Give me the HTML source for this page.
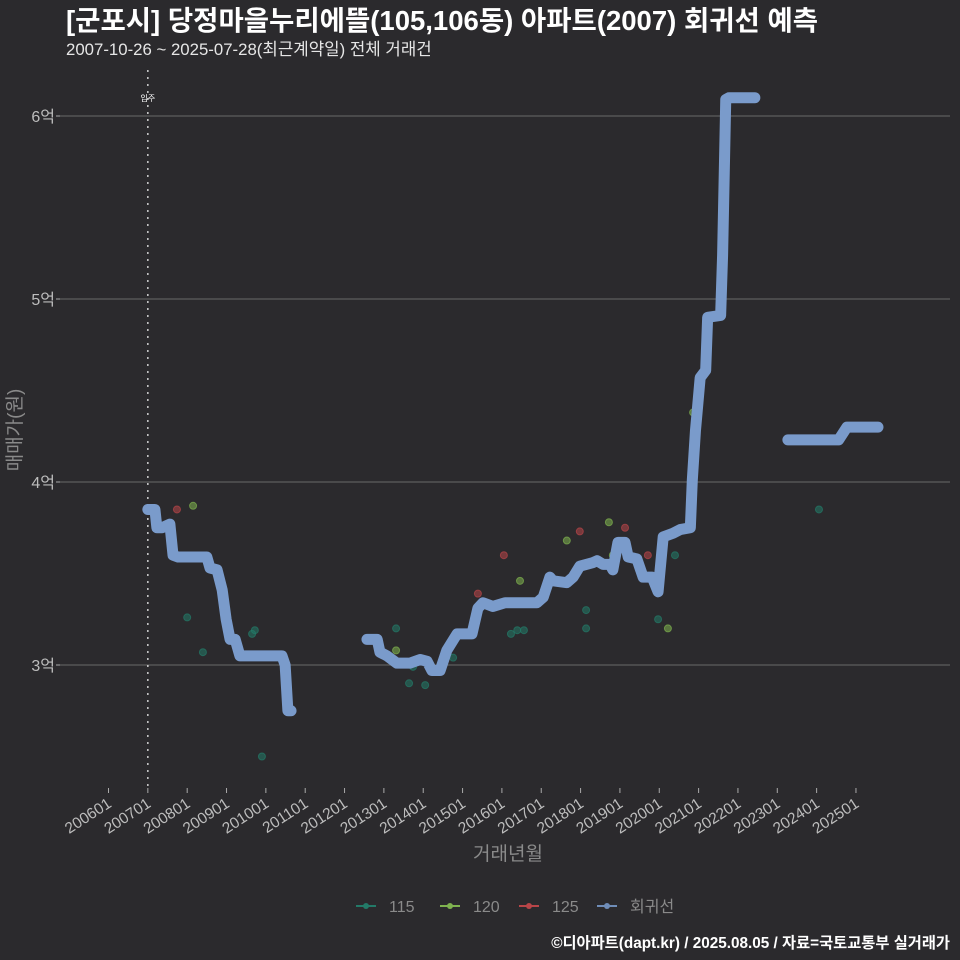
<!DOCTYPE html>
<html><head><meta charset="utf-8">
<style>
html,body{margin:0;padding:0;background:#2b2a2d;}
svg{display:block;font-family:"Liberation Sans","Noto Sans CJK KR",sans-serif;}
</style></head>
<body>
<svg id="chart" width="960" height="960" viewBox="0 0 960 960">
<rect width="960" height="960" fill="#2b2a2d"/>
<text x="66" y="30" font-size="27.5" font-weight="bold" fill="#ffffff">[군포시] 당정마을누리에뜰(105,106동) 아파트(2007) 회귀선 예측</text>
<text x="66" y="55" font-size="16.8" fill="#e6e6e6">2007-10-26 ~ 2025-07-28(최근계약일) 전체 거래건</text>
<g id="grid"></g>
<g id="axes"></g>
<g id="marks"></g>
<text x="0" y="0" transform="translate(21,430) rotate(-90)" text-anchor="middle" font-size="19" fill="#8a8a8a">매매가(원)</text>
<text x="508" y="860" text-anchor="middle" font-size="19" fill="#8a8a8a">거래년월</text>
<g id="legend"></g>
<text x="950" y="948" text-anchor="end" font-size="15.3" font-weight="bold" fill="#ffffff">©디아파트(dapt.kr) / 2025.08.05 / 자료=국토교통부 실거래가</text>
</svg>
<script>
const xTickYears=[2006,2007,2008,2009,2010,2011,2012,2013,2014,2015,2016,2017,2018,2019,2020,2021,2022,2023,2024,2025];
const xTickLabels=["200601","200701","200801","200901","201001","201101","201201","201301","201401","201501","201601","201701","201801","201901","202001","202101","202201","202301","202401","202501"];
const yTicks=[3,4,5,6];
const yTickLabels=["3억","4억","5억","6억"];
const moveInYear=2007.0;
const reg1Dates=[2007.00,2007.18,2007.23,2007.36,2007.56,2007.64,2007.77,2008.50,2008.58,2008.76,2008.89,2008.99,2009.09,2009.22,2009.34,2010.41,2010.49,2010.56,2010.64];
const reg1Values=[3.85,3.85,3.75,3.75,3.77,3.60,3.59,3.59,3.53,3.52,3.41,3.25,3.14,3.14,3.05,3.05,3.00,2.75,2.75];
const reg2Dates=[2012.57,2012.83,2012.90,2013.08,2013.33,2013.66,2013.92,2014.10,2014.22,2014.43,2014.60,2014.86,2015.24,2015.39,2015.52,2015.77,2016.08,2016.89,2017.05,2017.22,2017.30,2017.65,2017.81,2017.98,2018.32,2018.42,2018.57,2018.75,2018.82,2018.95,2019.13,2019.21,2019.43,2019.59,2019.82,2019.97,2020.10,2020.35,2020.53,2020.79,2020.84,2020.92,2021.04,2021.18,2021.23,2021.56,2021.61,2021.69,2021.77,2022.43];
const reg2Values=[3.14,3.14,3.07,3.05,3.01,3.01,3.03,3.02,2.97,2.97,3.08,3.17,3.17,3.31,3.34,3.32,3.34,3.34,3.37,3.48,3.46,3.45,3.48,3.54,3.56,3.57,3.55,3.55,3.52,3.67,3.67,3.59,3.58,3.48,3.48,3.40,3.70,3.72,3.74,3.75,4.01,4.28,4.57,4.61,4.90,4.91,5.24,6.09,6.10,6.10];
const reg3Dates=[2023.27,2024.56,2024.77,2025.56];
const reg3Values=[4.23,4.23,4.30,4.30];
const s115Dates=[2008.00,2008.40,2009.65,2009.72,2009.90,2013.31,2013.64,2013.74,2014.05,2014.76,2016.23,2016.39,2016.56,2018.14,2018.14,2019.97,2020.40,2024.06];
const s115Values=[3.26,3.07,3.17,3.19,2.50,3.20,2.90,2.99,2.89,3.04,3.17,3.19,3.19,3.30,3.20,3.25,3.60,3.85];
const s120Dates=[2008.15,2013.31,2016.46,2017.65,2018.72,2018.82,2020.22,2020.86];
const s120Values=[3.87,3.08,3.46,3.68,3.78,3.60,3.20,4.38];
const s125Dates=[2007.74,2015.39,2016.05,2017.98,2019.13,2019.71];
const s125Values=[3.85,3.39,3.60,3.73,3.75,3.60];

const NS="http://www.w3.org/2000/svg";
const X=y=>108.5+(y-2006)*39.34;
const Y=v=>665-(v-3)*183;
function mk(tag,attrs,parent){const e=document.createElementNS(NS,tag);for(const k in attrs)e.setAttribute(k,attrs[k]);parent.appendChild(e);return e;}
const grid=document.getElementById('grid'),axes=document.getElementById('axes'),marks=document.getElementById('marks'),legend=document.getElementById('legend');
yTicks.forEach((v,i)=>{
  const l=mk('line',{x1:60,x2:950,y1:Y(v),y2:Y(v),stroke:'#5e5e5e','stroke-width':1.2},grid);
  
  
  const t=mk('line',{x1:56,x2:60,y1:Y(v),y2:Y(v),stroke:'#aaa'},axes);
  
  
  const tx=mk('text',{x:55,y:Y(v)+6,'text-anchor':'end','font-size':16,fill:'#bdbdbd'},axes);
  tx.textContent=yTickLabels[i];
  
  
});
xTickYears.forEach((yr,i)=>{
  const x=X(yr);
  const t=mk('line',{x1:x,x2:x,y1:788,y2:793,stroke:'#aaa'},axes);
  
  
  const tx=mk('text',{x:0,y:0,transform:`translate(${x+4},${806}) rotate(-33)`,'text-anchor':'end','font-size':15.5,fill:'#bdbdbd'},axes);
  tx.textContent=xTickLabels[i];
  
  
});
const mv=mk('line',{x1:X(moveInYear),x2:X(moveInYear),y1:70,y2:790,stroke:'#d0d0d0','stroke-width':1.5,'stroke-dasharray':'2,5'},grid);


const mvt=mk('text',{x:X(moveInYear),y:101,'text-anchor':'middle','font-size':8,fill:'#ffffff'},grid);
mvt.textContent='입주';



function scatter(d,v,color,name){
  d.forEach((yr,i)=>{
    const c=mk('circle',{cx:X(yr),cy:Y(v[i]),r:3.5,fill:color,'fill-opacity':0.55,stroke:color,'stroke-opacity':0.7},marks);
    
    
  });
}
scatter(s115Dates,s115Values,'#237a68','point-115');
scatter(s120Dates,s120Values,'#7fb24f','point-120');
scatter(s125Dates,s125Values,'#b84548','point-125');
function line(d,v,name){
  const p=mk('polyline',{points:d.map((yr,i)=>X(yr)+','+Y(v[i])).join(' '),fill:'none',stroke:'#7a9bcb','stroke-width':11,'stroke-linecap':'round','stroke-linejoin':'round'},marks);
  
  
}
line(reg1Dates,reg1Values,'regression-line-1');
line(reg2Dates,reg2Values,'regression-line-2');
line(reg3Dates,reg3Values,'regression-line-3');

const legNames=['115','120','125','회귀선'];
const legColors=['#237a68','#7fb24f','#b84548','#6f8db8'];
const legX=[356,440,519,597];
legNames.forEach((n,i)=>{
  const g=mk('g',{},legend);
  
  
  mk('line',{x1:legX[i],x2:legX[i]+20,y1:906,y2:906,stroke:legColors[i],'stroke-width':2},g);
  mk('circle',{cx:legX[i]+10,cy:906,r:3,fill:legColors[i]},g);
  const t=mk('text',{x:legX[i]+33,y:912,'font-size':16,fill:'#8a8a8a'},g);
  t.textContent=n;
});
</script>
</body></html>
